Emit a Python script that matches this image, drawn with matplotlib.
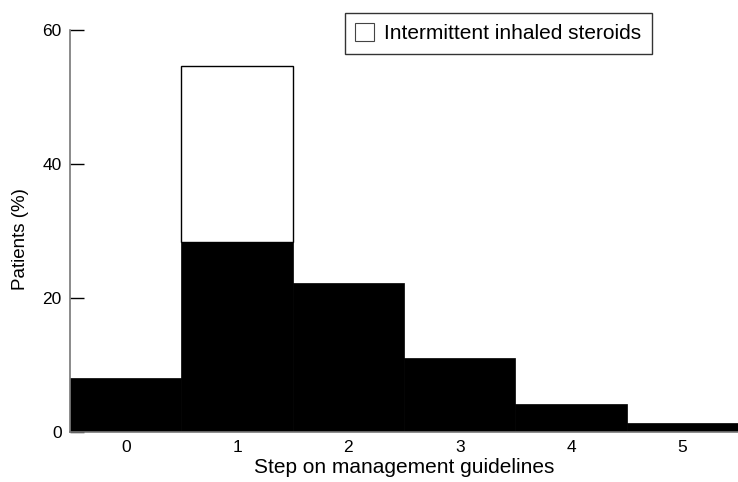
import matplotlib.pyplot as plt
from matplotlib.patches import Patch

plt.rcParams['font.family'] = ['Liberation Sans', 'DejaVu Sans']

steps = [0, 1, 2, 3, 4, 5]
patients = [8.0, 28.4, 22.2, 11.0, 4.2, 1.3]
intermittent = [0, 26.2, 0, 0, 0, 0]

fig = plt.figure(figsize=(7.38, 4.82), dpi=100)
ax = fig.add_axes([0.095, 0.1037, 0.905, 0.834])

ax.bar(steps, patients, width=1.0, color='black', edgecolor='black', linewidth=0.5)
ax.bar(steps, intermittent, width=1.0, bottom=patients, color='white',
       edgecolor=['none', 'black', 'none', 'none', 'none', 'none'], linewidth=1.0)

ax.set_xlim(-0.5, 5.5)
ax.set_ylim(0, 60)
ax.set_yticks([0, 20, 40, 60])
ax.set_xticks(steps)
for s in ['top', 'right']:
    ax.spines[s].set_visible(False)
for s in ['left', 'bottom']:
    ax.spines[s].set_color('#777777')
    ax.spines[s].set_linewidth(1.2)
ax.tick_params(axis='y', direction='in', length=10, width=1, color='black',
               labelsize=12.5, pad=6)
ax.tick_params(axis='x', length=0, labelsize=12.5, pad=6)

ax.set_xlabel('Step on management guidelines', fontsize=15, labelpad=2)
ax.set_ylabel('Patients (%)', fontsize=13.5)
ax.yaxis.set_label_coords(-0.061, 0.48)

handle = Patch(facecolor='white', edgecolor='#444444', linewidth=0.8)
fig.legend([handle], ['Intermittent inhaled steroids'], loc='upper left',
           bbox_to_anchor=(0.467, 0.973), fontsize=15, frameon=True, fancybox=False,
           edgecolor='black', handlelength=0.9, handleheight=0.9, handletextpad=0.5,
           borderpad=0.5, borderaxespad=0)

fig.savefig('out.png', dpi=100)
